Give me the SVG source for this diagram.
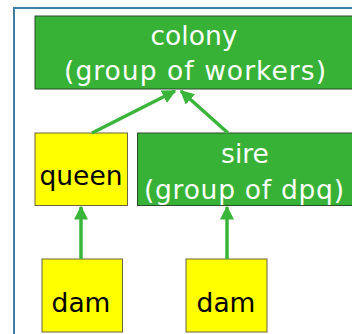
<svg xmlns="http://www.w3.org/2000/svg" width="352" height="334" viewBox="0 0 352 334">
  <style>
    .frame { fill: #ffffff; stroke: #3f7fa3; stroke-width: 2; }
    .grp { fill: #37b237; stroke: #2c4a2c; stroke-width: 1; }
    .ind { fill: #ffff00; stroke: #6a6440; stroke-width: 1; }
    .lbl { font-family: "DejaVu Sans", Verdana, sans-serif; font-size: 26.5px; text-anchor: middle; }
    .light { fill: #ffffff; }
    .dark { fill: #000000; }
    .edge { stroke: #3ab53a; stroke-width: 3.5; fill: none; marker-end: url(#head); }
  </style>
  <defs>
    <marker id="head" viewBox="0 0 10 10" refX="9" refY="5" markerWidth="4" markerHeight="4" orient="auto" markerUnits="strokeWidth">
      <path d="M0,0 L10,5 L0,10 z" fill="#3ab53a"/>
    </marker>
  </defs>

  <rect class="frame" x="14" y="8" width="360" height="340"/>

  <g id="colony">
    <rect class="grp" x="35" y="16" width="320" height="73"/>
    <text class="lbl light" x="194" y="45" textLength="87">colony</text>
    <text class="lbl light" x="195" y="80" textLength="262">(group of workers)</text>
  </g>

  <g id="queen">
    <rect class="ind" x="35" y="133" width="92.5" height="72.5"/>
    <text class="lbl dark" x="81" y="185">queen</text>
  </g>

  <g id="sire">
    <rect class="grp" x="137.5" y="133" width="220" height="72.5"/>
    <text class="lbl light" x="245" y="163">sire</text>
    <text class="lbl light" x="244" y="199" textLength="200">(group of dpq)</text>
  </g>

  <g id="dam-left">
    <rect class="ind" x="42" y="259" width="80.5" height="73"/>
    <text class="lbl dark" x="81" y="312">dam</text>
  </g>

  <g id="dam-right">
    <rect class="ind" x="186" y="259" width="81" height="73"/>
    <text class="lbl dark" x="226" y="312">dam</text>
  </g>

  <g id="connectors">
    <line class="edge" x1="92" y1="133" x2="175" y2="91"/>
    <line class="edge" x1="228" y1="133" x2="181" y2="91"/>
    <line class="edge" x1="81" y1="259" x2="81" y2="207"/>
    <line class="edge" x1="227" y1="259" x2="227" y2="207"/>
  </g>
</svg>
